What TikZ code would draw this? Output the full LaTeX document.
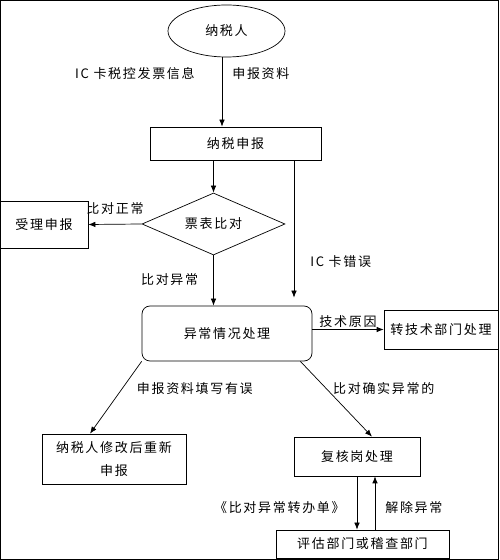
\documentclass[tikz,border=0pt]{standalone}
\usepackage{fontspec}
\setmainfont[LetterSpace=13]{Noto Sans CJK SC}
\usepackage{tikz}
\usetikzlibrary{arrows.meta,calc,positioning,shapes.geometric}

\begin{document}
\begin{tikzpicture}[x=1pt, y=1pt, >={Latex[length=7pt,width=5.5pt]}, line width=0.7pt,
	every node/.style={font=\fontsize{13}{23}\selectfont},
	proc/.style={draw, rectangle, inner sep=0pt},
	txt/.style={inner sep=0pt}]
		\useasboundingbox (0,0) rectangle (499,560);
		\draw (0.5,0.5) rectangle (498.5,559.5);
		
		\node[draw, ellipse, inner sep=0pt, minimum width=117pt, minimum height=52pt] (v1) at (226.5,529) {纳税人};
		
		\node[proc, minimum width=171pt, minimum height=33pt] (v2) at (235.5,416.5) {纳税申报};
		
		\node[draw, diamond, aspect=2.3, inner sep=0pt, minimum width=143pt, minimum height=62pt] (v3) at (213.5,336) {票表比对};
		
		\node[proc, minimum width=88pt, minimum height=47pt] (v4) at (44,335.5) {受理申报};
		
		\node[proc, rounded corners=8pt, minimum width=170pt, minimum height=55pt] (v5) at (227,226.5) {异常情况处理};
		
		\node[proc, minimum width=114pt, minimum height=39pt] (v6) at (441,230.5) {转技术部门处理};
		
		\node[proc, align=center, minimum width=144pt, minimum height=50pt] (v7) at (114,101) {纳税人修改后重新\\申报};
		
		\node[proc, minimum width=126pt, minimum height=39pt] (v8) at (357,103.5) {复核岗处理};
		
		\node[proc, minimum width=173pt, minimum height=28pt] (v9) at (362.5,16) {评估部门或稽查部门};
		
		\draw[->] ([xshift=-4.5pt]v1.south) -- ([xshift=-4.5pt]v1.south |- v2.north) node[txt, pos=0.23, left=27pt] {IC 卡税控发票信息} node[txt, pos=0.23, right=10pt] {申报资料};
		
		\draw[->] (v3.north |- v2.south) -- (v3.north);
		
		\draw[->, shorten >=8pt] ([xshift=58.5pt]v2.south) -- ([xshift=58.5pt]v2.south |- v5.north) node[txt, pos=0.7, right=16pt] {IC 卡错误};
		
		\draw[->] (v3.west) -- (v4.east) node[txt, midway, above=9pt] {比对正常};
		
		\draw[->] (v3.south) -- (v3.south |- v5.north) node[txt, pos=0.49, left=15pt] {比对异常};
		
		\draw[->] (v6.west -| v5.east) -- (v6.west) node[txt, midway, above=2pt] {技术原因};
		
		\draw[->] (v5.south west) -- ([xshift=-24pt]v7.north) node[txt, pos=0.37, right=14pt] {申报资料填写有误};
		
		\draw[->] ([xshift=-12pt]v5.south east) -- ([xshift=15pt]v8.north) node[txt, pos=0.355, right=7pt] {比对确实异常的};
		
		\draw[->] (v8.south) -- (v8.south |- v9.north) node[txt, pos=0.59, left=12pt] {《比对异常转办单》};
		
		\draw[->] ([xshift=18pt]v8.south |- v9.north) -- ([xshift=18pt]v8.south) node[txt, pos=0.41, right=10pt] {解除异常};
		\end{tikzpicture}
\end{document}
